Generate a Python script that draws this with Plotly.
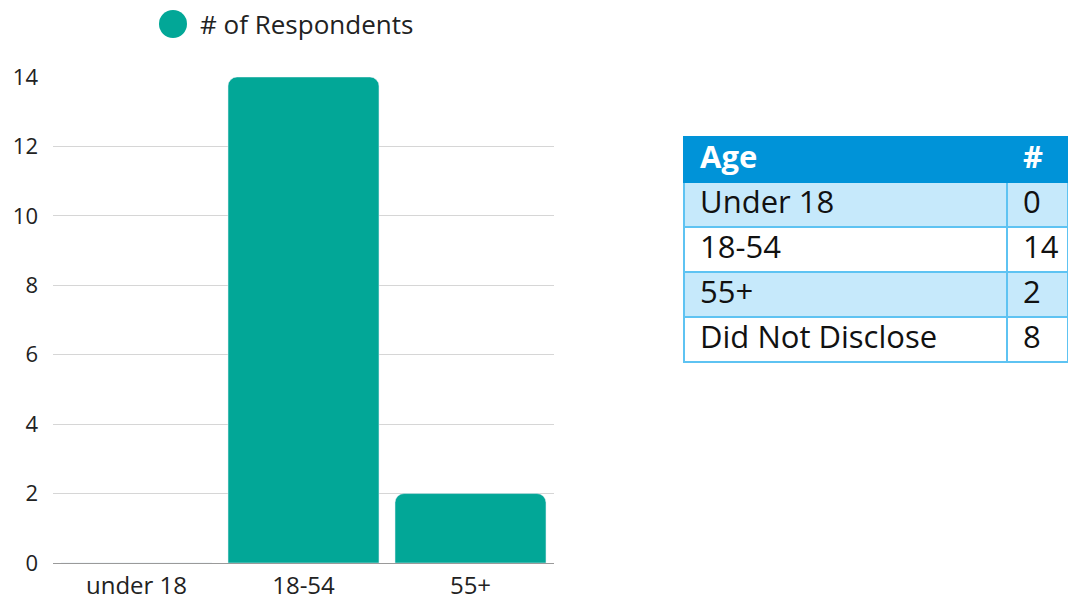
import plotly.graph_objects as go

# Data
categories = ["under 18", "18-54", "55+"]
respondents = [0, 14, 2]
series_name = "# of Respondents"

table_header = ["Age", "#"]
table_ages = ["Under 18", "18-54", "55+", "Did Not Disclose"]
table_counts = ["0", "14", "2", "8"]

y_ticks = [0, 2, 4, 6, 8, 10, 12, 14]

TEAL = "#02a797"
FONT = "Open Sans"
W, H = 1068, 604
SP = "\u00a0"

fig = go.Figure()
fig.add_trace(go.Bar(
    x=categories, y=respondents, marker_color=TEAL, name=series_name,
    showlegend=False, hoverinfo="x+y",
))

fig.add_trace(go.Table(
    domain=dict(x=[684 / W, 1.0], y=[1 - 366 / H, 1 - 137 / H]),
    columnwidth=[323, 61],
    header=dict(
        values=[SP + h for h in table_header],
        fill_color="#0093d8",
        line=dict(color="#0093d8", width=2),
        font=dict(family=FONT, size=31, color="white", weight="bold"),
        align="left",
        height=45,
    ),
    cells=dict(
        values=[[SP + a for a in table_ages], [SP + c for c in table_counts]],
        fill_color=[["#c6e9fb", "white", "#c6e9fb", "white"]] * 2,
        line=dict(color="#5ec3f2", width=2),
        font=dict(family=FONT, size=31, color="#111111"),
        align="left",
        height=45,
    ),
))

# legend built from layout elements
fig.add_shape(type="circle", xref="paper", yref="paper",
              x0=159 / W, x1=187 / W, y0=1 - 38 / H, y1=1 - 10 / H,
              fillcolor=TEAL, line=dict(width=0))
fig.add_annotation(text=series_name, xref="paper", yref="paper",
                   x=198 / W, y=1 - 24 / H, xanchor="left", yanchor="middle",
                   showarrow=False, font=dict(family=FONT, size=26, color="#222222"))

fig.update_layout(
    width=W, height=H,
    margin=dict(l=0, r=0, t=0, b=0),
    paper_bgcolor="white", plot_bgcolor="white",
    font=dict(family=FONT, size=21, color="#222222"),
    bargap=0.096,
    barcornerradius=9,
    xaxis=dict(domain=[53 / W, 554 / W], showgrid=False, ticks="",
               showline=False, ticklabelstandoff=6, automargin=False,
               tickfont=dict(size=24)),
    yaxis=dict(domain=[41 / H, 527 / H], range=[0, 14], tickvals=y_ticks,
               showgrid=True, gridcolor="#d6d6d6", gridwidth=1,
               zeroline=True, zerolinecolor="#9a9a9a", zerolinewidth=1,
               ticks="", ticklabelstandoff=14, automargin=False,
               tickfont=dict(size=22)),
)

fig.write_html("out.html")
